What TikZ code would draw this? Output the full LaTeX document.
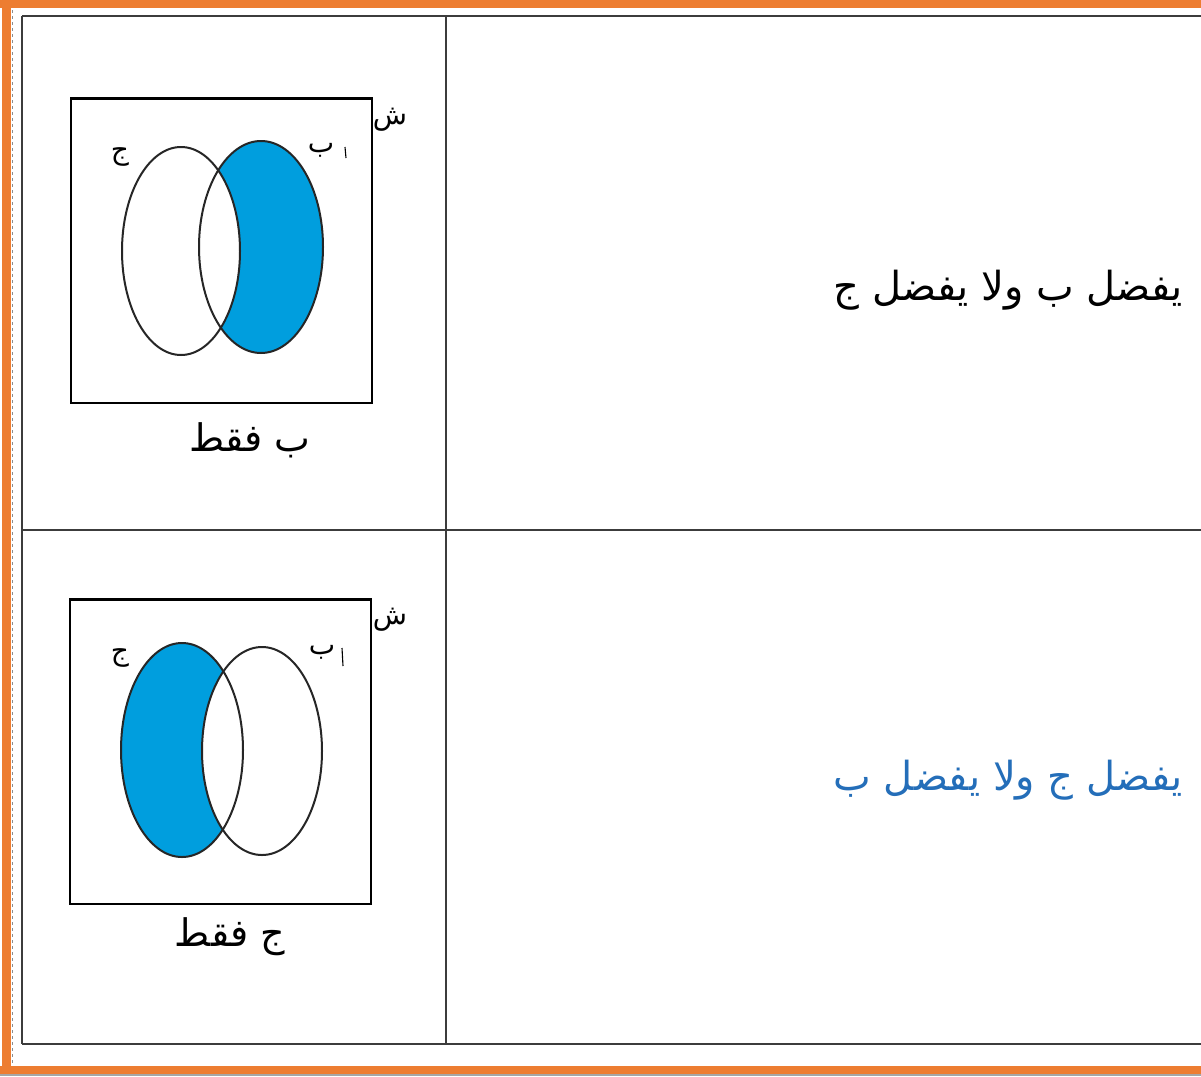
\documentclass[tikz,border=0pt]{standalone}
\usepackage{fontspec}
\TeXXeTstate=1
\newfontfamily\arabicfont[Script=Arabic]{DejaVu Sans}
\definecolor{frameorange}{RGB}{237,125,49}
\definecolor{vennblue}{RGB}{0,158,222}
\definecolor{textblue}{RGB}{36,110,185}
\definecolor{rulegrey}{RGB}{60,60,60}
\tikzset{
  tablerule/.style={draw=rulegrey, line width=1.6pt},
  setbox/.style={draw=black, line width=1.5pt},
  settop/.style={draw=black, line width=3pt},
  ring/.style={draw=black!85, line width=2pt},
  smalllbl/.style={inner sep=0pt, font=\arabicfont\fontsize{28}{30}\selectfont},
  caption/.style={inner sep=0pt, font=\arabicfont\fontsize{38}{42}\selectfont},
  rowtext/.style={inner sep=0pt, anchor=east, font=\arabicfont\fontsize{40}{44}\selectfont}
}
\begin{document}
\begin{tikzpicture}[x=1pt,y=-1pt]
\useasboundingbox (0,0) rectangle (1201,1076);
\fill[white] (0,0) rectangle (1201,1076);
% frame
\fill[frameorange] (0,0) rectangle (1201,8);
\fill[frameorange] (2,0) rectangle (11,1074);
\fill[frameorange] (0,1066) rectangle (1201,1074);
\fill[black!35] (0,1074) rectangle (1201,1076);
\draw[black!45, dashed, line width=0.8pt] (12.5,10) -- (12.5,1064);
% table
\coordinate (tl) at (22,16);
\coordinate (tr) at (1201,16);
\coordinate (ml) at (22,530);
\coordinate (mr) at (1201,530);
\coordinate (bl) at (22,1044);
\coordinate (br) at (1201,1044);
\coordinate (dt) at (446,16);
\coordinate (db) at (446,1044);
\draw[tablerule] (tl) -- (tr);
\draw[tablerule] (ml) -- (mr);
\draw[tablerule] (bl) -- (br);
\draw[tablerule] (tl) -- (bl);
\draw[tablerule] (dt) -- (db);

% Venn 1: B only
\fill[vennblue] (261,247) ellipse [x radius=62pt, y radius=106pt];
\fill[white] (181,251) ellipse [x radius=59pt, y radius=104pt];
\draw[ring] (261,247) ellipse [x radius=62pt, y radius=106pt];
\draw[ring] (181,251) ellipse [x radius=59pt, y radius=104pt];
\draw[setbox] (71,98) rectangle (372,403);
\draw[settop] (71,98) -- (372,98);
\node[smalllbl] (c1) at (120,157) {\beginR ج\endR};
\node[smalllbl] (b1) at (321,150) {\beginR ب\endR};
\draw[black, line width=1.1pt] (345,147) -- (346,158);
\node[smalllbl] (u1) at (390,120) {\beginR ش\endR};
\node[caption] (cap1) at (250,440) {\beginR ب فقط\endR};

% Venn 2: C only
\fill[vennblue] (182,750) ellipse [x radius=61pt, y radius=107pt];
\fill[white] (262,751) ellipse [x radius=60pt, y radius=104pt];
\draw[ring] (182,750) ellipse [x radius=61pt, y radius=107pt];
\draw[ring] (262,751) ellipse [x radius=60pt, y radius=104pt];
\draw[setbox] (70,599) rectangle (371,904);
\draw[settop] (70,599) -- (371,599);
\node[smalllbl] (c2) at (120,658) {\beginR ج\endR};
\node[smalllbl] (b2) at (322,652) {\beginR ب\endR};
\draw[black, line width=1.1pt] (342,648) -- (343,666);
\node[smalllbl] (u2) at (390,620) {\beginR ش\endR};
\node[caption] (cap2) at (230,937) {\beginR ج فقط\endR};

% row texts
\node[rowtext] (r1) at (1183,290) {\beginR يفضل ب ولا يفضل ج\endR};
\node[rowtext, text=textblue] (r2) at (1183,780) {\beginR يفضل ج ولا يفضل ب\endR};
\end{tikzpicture}
\end{document}
